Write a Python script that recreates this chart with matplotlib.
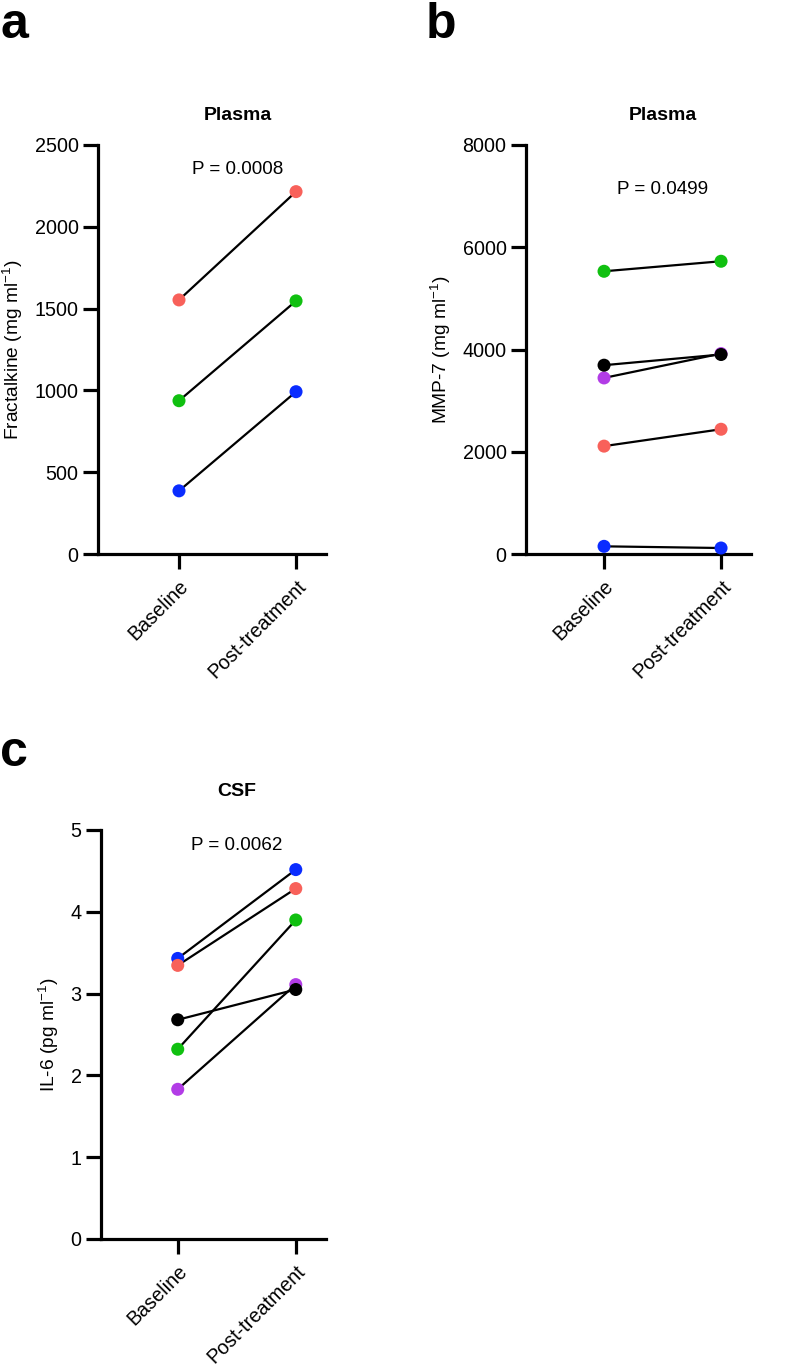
import matplotlib
matplotlib.use("Agg")
import matplotlib.pyplot as plt

plt.rcParams['font.family'] = ['Liberation Sans', 'DejaVu Sans']
plt.rcParams['mathtext.fontset'] = 'custom'
plt.rcParams['mathtext.rm'] = 'Liberation Sans'

groups = ["Baseline", "Post-treatment"]

# Panel a: Fractalkine (plasma)
a_colors = ["#0A2CFF", "#10C010", "#F8615A"]
a_base = [386, 937, 1553]
a_post = [992, 1547, 2215]

# Panel b: MMP-7 (plasma)
b_colors = ["#0A2CFF", "#F8615A", "#10C010", "#B23CE6", "#000000"]
b_base = [150, 2110, 5530, 3444, 3693]
b_post = [117, 2440, 5726, 3920, 3902]

# Panel c: IL-6 (CSF)
c_colors = ["#0A2CFF", "#F8615A", "#10C010", "#B23CE6", "#000000"]
c_base = [3.43, 3.345, 2.32, 1.83, 2.68]
c_post = [4.516, 4.284, 3.90, 3.11, 3.05]

W, H = 800, 1367
fig = plt.figure(figsize=(W / 100, H / 100), dpi=100)


def make_ax(left, right, top, bottom):
    return fig.add_axes([left / W, (H - bottom) / H, (right - left) / W, (bottom - top) / H])


def style(ax, base, post, colors, ymax, yticks, ylabel, title, ptext, ty, py, xl, xr):
    for b, p, c in zip(base, post, colors):
        ax.plot([0, 1], [b, p], color='black', lw=1.6, zorder=2, clip_on=False)
        ax.scatter([0, 1], [b, p], s=88, color=c, edgecolors='none', zorder=3, clip_on=False)
    ax.set_xlim(xl, xr)
    ax.set_ylim(0, ymax)
    ax.set_yticks(yticks)
    ax.set_yticklabels([str(t) for t in yticks])
    ax.set_xticks([0, 1])
    ax.set_xticklabels(groups, rotation=45, ha='right', rotation_mode='anchor')
    for s in ['top', 'right']:
        ax.spines[s].set_visible(False)
    for s in ['left', 'bottom']:
        ax.spines[s].set_linewidth(2.3)
    ax.tick_params(axis='both', width=2.3, length=11, labelsize=14.2, color='black')
    ax.tick_params(axis='y', pad=3)
    ax.tick_params(axis='x', pad=5)
    ax.set_ylabel(ylabel, fontsize=13.8, labelpad=7)
    ax.annotate(title, xy=(0.5, ty), xycoords=('data', 'axes fraction'),
                ha='center', va='center', fontsize=14, fontweight='bold')
    ax.annotate(ptext, xy=(0.5, py), xycoords=('data', 'axes fraction'),
                ha='center', va='center', fontsize=13.6)


ax_a = make_ax(98, 326, 145, 554)
style(ax_a, a_base, a_post, a_colors, 2500, [0, 500, 1000, 1500, 2000, 2500],
      r'Fractalkine (mg ml$^{\mathregular{-1}}$)', 'Plasma', 'P = 0.0008',
      1.073, 0.939, -0.692, 1.256)

ax_b = make_ax(526, 751, 145, 554)
style(ax_b, b_base, b_post, b_colors, 8000, [0, 2000, 4000, 6000, 8000],
      r'MMP-7 (mg ml$^{\mathregular{-1}}$)', 'Plasma', 'P = 0.0499',
      1.073, 0.89, -0.667, 1.256)

ax_c = make_ax(101, 326, 830, 1239)
style(ax_c, c_base, c_post, c_colors, 5, [0, 1, 2, 3, 4, 5],
      r'IL-6 (pg ml$^{\mathregular{-1}}$)', 'CSF', 'P = 0.0062',
      1.093, 0.963, -0.65, 1.256)

fig.text(0 / W, 1 - 2 / H, 'a', fontsize=36, fontweight='bold', ha='left', va='top')
fig.text(426 / W, 1 - 2 / H, 'b', fontsize=36, fontweight='bold', ha='left', va='top')
fig.text(0 / W, 1 - 730 / H, 'c', fontsize=36, fontweight='bold', ha='left', va='top')

fig.savefig('out.png', dpi=100)
